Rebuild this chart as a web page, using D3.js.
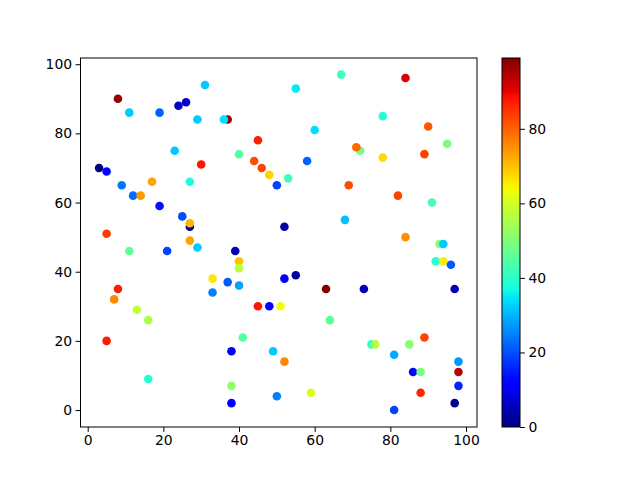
<!DOCTYPE html>
<html>
<head>
<meta charset="utf-8">
<script src="https://cdn.jsdelivr.net/npm/d3@7"></script>
<style>
  body { margin: 0; background: #fff; }
  svg text { font-family: "DejaVu Sans", sans-serif; }
</style>
</head>
<body>
<svg id="scatter"></svg>
<script>
// point data (x, y, colour value)
const xs = [31, 8, 11, 19, 24, 26, 29, 23, 30, 3, 5, 9, 17, 27, 12, 14, 19, 25, 27, 27, 5, 27,
  67, 55, 37, 36, 60, 45, 40, 44, 46, 48, 53, 58, 50, 68, 52,
  84, 78, 90, 72, 71, 95, 78, 89, 69, 82, 91, 84,
  11, 21, 29, 33, 33, 8, 7, 13, 16, 5, 16,
  39, 40, 40, 37, 40, 52, 55, 63, 45, 48, 51, 64, 41, 38, 49, 52, 38, 50, 59, 38,
  93, 94, 92, 94, 96, 73, 97, 89, 75, 76, 85, 81, 98, 86, 88, 98, 88, 98, 97, 81];
const ys = [94, 90, 86, 86, 88, 89, 84, 75, 71, 70, 69, 65, 66, 66, 62, 62, 59, 56, 53, 54, 51, 49,
  97, 93, 84, 84, 81, 78, 74, 72, 70, 68, 67, 72, 65, 55, 53,
  96, 85, 82, 75, 76, 77, 73, 74, 65, 62, 60, 50,
  46, 46, 47, 38, 34, 35, 32, 29, 26, 20, 9,
  46, 43, 41, 37, 36, 38, 39, 35, 30, 30, 30, 26, 21, 17, 17, 14, 7, 4, 5, 2,
  48, 48, 43, 43, 42, 35, 35, 21, 19, 19, 19, 16, 14, 11, 11, 11, 5, 7, 2, 0];
const cs = [32, 97, 32, 22, 6, 7, 32, 32, 88, 0, 13, 24, 73, 38, 23, 74, 14, 20, 3, 71, 84, 73,
  42, 35, 97, 34, 34, 87, 45, 82, 83, 68, 42, 22, 19, 31, 3,
  91, 39, 81, 48, 79, 49, 67, 83, 82, 83, 43, 75,
  46, 19, 32, 66, 25, 87, 76, 58, 55, 87, 39,
  4, 70, 57, 21, 28, 12, 3, 99, 88, 12, 63, 46, 45, 12, 32, 76, 52, 25, 61, 12,
  50, 32, 40, 65, 21, 5, 5, 83, 40, 57, 51, 29, 27, 13, 49, 94, 86, 16, 2, 19];

const xTicks = [0, 20, 40, 60, 80, 100];
const yTicks = [0, 20, 40, 60, 80, 100];
const cTicks = [0, 20, 40, 60, 80];

const points = xs.map((x, i) => ({ x: x, y: ys[i], c: cs[i] }));

const W = 640, H = 480;
const plot = { left: 80.5, right: 477, top: 58, bottom: 427 };
const bar = { left: 502, right: 520, top: 58, bottom: 427 };

const svg = d3.select("#scatter").attr("width", W).attr("height", H);

const x = d3.scaleLinear().domain([-1.9, 102.9]).range([plot.left, plot.right]);
const y = d3.scaleLinear().domain([-4.9, 101.8]).range([plot.bottom, plot.top]);

// matplotlib "jet" colormap, channel by channel
const rCh = d3.scaleLinear().domain([0, 0.35, 0.66, 0.89, 1]).range([0, 0, 1, 1, 0.5]).clamp(true);
const gCh = d3.scaleLinear().domain([0, 0.125, 0.375, 0.64, 0.91, 1]).range([0, 0, 1, 1, 0, 0]).clamp(true);
const bCh = d3.scaleLinear().domain([0, 0.11, 0.34, 0.65, 1]).range([0.5, 1, 1, 0, 0]).clamp(true);
const jet = t => d3.rgb(rCh(t) * 255, gCh(t) * 255, bCh(t) * 255).formatHex();

const cMin = d3.min(cs), cMax = d3.max(cs);
const cNorm = d3.scaleLinear().domain([cMin, cMax]).range([0, 1]);

svg.selectAll(".dot")
    .data(points)
    .enter().append("circle")
    .attr("class", "dot")
    .attr("cx", d => x(d.x))
    .attr("cy", d => y(d.y))
    .attr("r", 4.3)
    .attr("fill", d => jet(cNorm(d.c)));

// axes
const xAxis = svg.append("g")
    .attr("transform", `translate(0,${plot.bottom})`)
    .call(d3.axisBottom(x).tickValues(xTicks).tickSize(4.9).tickPadding(3.5));
const yAxis = svg.append("g")
    .attr("transform", `translate(${plot.left},0)`)
    .call(d3.axisLeft(y).tickValues(yTicks).tickSize(4.9).tickPadding(3.5));

[xAxis, yAxis].forEach(a => {
    a.select(".domain").remove();
    a.selectAll("text").style("font-size", "13.9px").attr("fill", "#000");
    a.selectAll("line").attr("stroke", "#000").attr("stroke-width", 1);
});

svg.append("rect")
    .attr("x", plot.left).attr("y", plot.top)
    .attr("width", plot.right - plot.left).attr("height", plot.bottom - plot.top)
    .attr("fill", "none").attr("stroke", "#000").attr("stroke-width", 1);

// colorbar
const defs = svg.append("defs");
const grad = defs.append("linearGradient")
    .attr("id", "jetgrad")
    .attr("x1", 0).attr("y1", 1).attr("x2", 0).attr("y2", 0);
d3.range(0, 1.0001, 0.01).forEach(t => {
    grad.append("stop").attr("offset", t).attr("stop-color", jet(t));
});

const cScale = d3.scaleLinear().domain([cMin, cMax]).range([bar.bottom, bar.top]);

svg.append("rect")
    .attr("x", bar.left).attr("y", bar.top)
    .attr("width", bar.right - bar.left).attr("height", bar.bottom - bar.top)
    .attr("fill", "url(#jetgrad)")
    .attr("stroke", "#000").attr("stroke-width", 1);

const cAxis = svg.append("g")
    .attr("transform", `translate(${bar.right},0)`)
    .call(d3.axisRight(cScale).tickValues(cTicks).tickSize(4.9).tickPadding(3.5));
cAxis.select(".domain").remove();
cAxis.selectAll("text").style("font-size", "13.9px").attr("fill", "#000");
cAxis.selectAll("line").attr("stroke", "#000");
</script>
</body>
</html>
